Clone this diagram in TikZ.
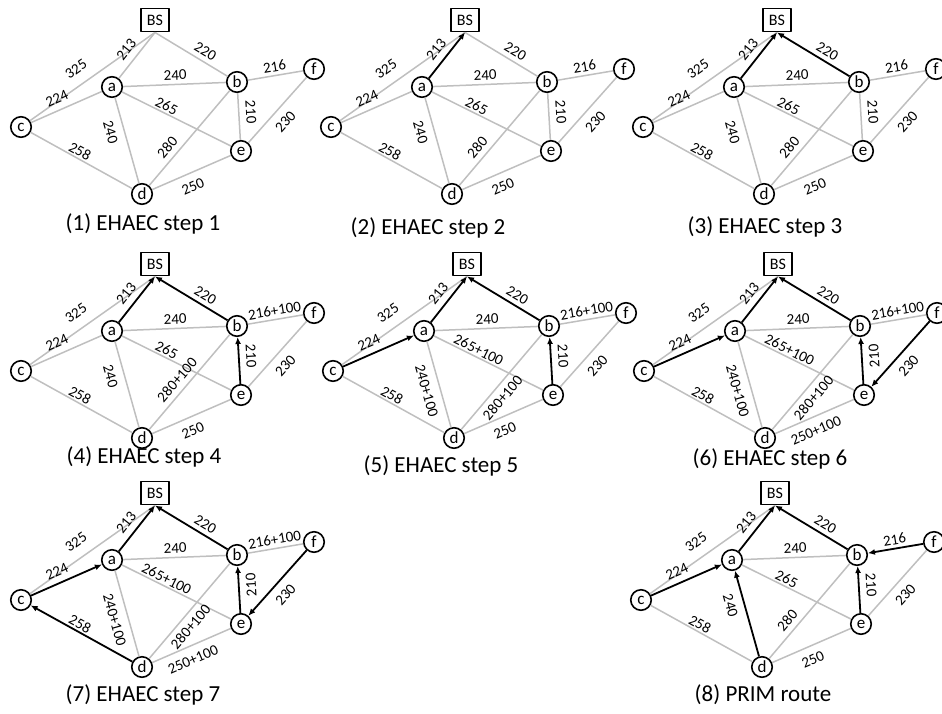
\documentclass[tikz,border=0pt]{standalone}
\usepackage{fontspec}
\setmainfont{Carlito}
\usetikzlibrary{arrows.meta}

\begin{document}
\begin{tikzpicture}[
		x=1pt, y=-1pt,
		line join=round,
		>={Latex[length=7pt,width=6pt]},
		vtx/.style={circle, draw, line width=1.6pt, minimum size=20.5pt, inner sep=0pt, font=\fontsize{17}{17}\selectfont},
		bs/.style={draw, line width=1.9pt, minimum width=28pt, minimum height=23pt, inner sep=0pt, font=\fontsize{16}{16}\selectfont},
		link/.style={black!25, line width=1.5pt},
		tree/.style={->, black, line width=1.8pt},
		lab/.style={sloped, text=black, font=\fontsize{15}{15}\selectfont},
		captxt/.style={font=\fontsize{23}{23}\selectfont},
		e-cBS/.style={link}, e-aBS/.style={link}, e-bBS/.style={link},
		e-ab/.style={link}, e-bf/.style={link}, e-ca/.style={link},
		e-ae/.style={link}, e-eb/.style={link}, e-ef/.style={link},
		e-ad/.style={link}, e-db/.style={link}, e-cd/.style={link},
		e-de/.style={link},
		l-eb/.style={anchor=south},
		l-db/.style={anchor=south west, pos=0.19},
		flipped/.style={l-eb/.style={allow upside down, anchor=north}},
		dbright/.style={l-db/.style={anchor=north west, pos=0.15}}
	]
	
	\useasboundingbox (0,0) rectangle (942,713);
	
	% Edge weights
	\def\wbf{216}
	\def\wae{265}
	\def\wad{240}
	\def\wdb{280}
	\def\wde{250}
	
	% One network, BS at the origin
	\def\net{%
		\node[bs] (BS) at (0,0) {BS};
		\node[vtx] (a) at (-43,67) {a};
		\node[vtx] (b) at (82,62) {b};
		\node[vtx] (c) at (-134,107) {c};
		\node[vtx] (d) at (-13,174) {d};
		\node[vtx] (e) at (86,131) {e};
		\node[vtx] (f) at (159,49) {f};
		\draw[e-cBS] (c) -- (BS.south) node[lab, pos=0.44, anchor=south, inner sep=10pt] (w-cBS) {325};
		\draw[e-aBS] (a) -- (BS.south) node[lab, pos=0.46, anchor=south, inner sep=6pt] (w-aBS) {213};
		\draw[e-bBS] (b) -- (BS.south) node[lab, pos=0.375, anchor=south, inner sep=4pt] (w-bBS) {220};
		\draw[e-ab] (a) -- (b) node[lab, pos=0.51, anchor=south, inner sep=3.5pt] (w-ab) {240};
		\draw[e-bf] (f) -- (b) node[lab, pos=0.49, anchor=south, inner sep=3pt] (w-bf) {\wbf};
		\draw[e-ca] (c) -- (a) node[lab, pos=0.43, anchor=south, inner sep=6pt] (w-ca) {224};
		\draw[e-ae] (a) -- (e) node[lab, pos=0.38, anchor=south, inner sep=1.5pt] (w-ae) {\wae};
		\draw[e-eb] (e) -- (b) node[lab, l-eb, pos=0.58, inner sep=6.5pt] (w-eb) {210};
		\draw[e-ef] (f) -- (e) node[lab, pos=0.54, anchor=north, inner sep=8pt] (w-ef) {230};
		\draw[e-ad] (d) -- (a) node[lab, pos=0.865, anchor=north west, inner sep=8pt] (w-ad) {\wad};
		\draw[e-db] (d) -- (b) node[lab, l-db, inner sep=5pt] (w-db) {\wdb};
		\draw[e-cd] (d) -- (c) node[lab, pos=0.55, anchor=south, inner sep=1.5pt] (w-cd) {258};
		\draw[e-de] (d) -- (e) node[lab, pos=0.45, anchor=north, inner sep=8pt] (w-de) {\wde};
	}
	
	% (1)
	\begin{scope}[shift={(155,20)}, name prefix=p1-]
		\net
		\node[captxt] (cap) at (-12,204) {(1) EHAEC step 1};
	\end{scope}
	
	% (2)
	\begin{scope}[shift={(465,20)}, name prefix=p2-, e-aBS/.style=tree]
		\net
		\node[captxt] (cap) at (-37,208) {(2) EHAEC step 2};
	\end{scope}
	
	% (3)
	\begin{scope}[shift={(777,20)}, name prefix=p3-, e-aBS/.style=tree, e-bBS/.style=tree]
		\net
		\node[captxt] (cap) at (-12,207) {(3) EHAEC step 3};
	\end{scope}
	
	% (4)
	\begin{scope}[shift={(155,264)}, name prefix=p4-, e-aBS/.style=tree, e-bBS/.style=tree,
		e-eb/.style=tree]
		\def\wbf{216+100}\def\wdb{280+100}
		\net
		\node[captxt] (cap) at (-11,193) {(4) EHAEC step 4};
	\end{scope}
	
	% (5)
	\begin{scope}[shift={(467,264)}, name prefix=p5-, e-aBS/.style=tree, e-bBS/.style=tree,
		e-eb/.style=tree, e-ca/.style=tree, dbright]
		\def\wbf{216+100}\def\wdb{280+100}\def\wae{265+100}\def\wad{240+100}
		\net
		\node[captxt] (cap) at (-26,202) {(5) EHAEC step 5};
	\end{scope}
	
	% (6)
	\begin{scope}[shift={(778,264)}, name prefix=p6-, e-aBS/.style=tree, e-bBS/.style=tree,
		e-eb/.style=tree, e-ca/.style=tree, e-ef/.style=tree, flipped, dbright]
		\def\wbf{216+100}\def\wdb{280+100}\def\wae{265+100}\def\wad{240+100}\def\wde{250+100}
		\net
		\node[captxt] (cap) at (-8,195) {(6) EHAEC step 6};
	\end{scope}
	
	% (7)
	\begin{scope}[shift={(155,493)}, name prefix=p7-, e-aBS/.style=tree, e-bBS/.style=tree,
		e-eb/.style=tree, e-ca/.style=tree, e-ef/.style=tree, e-cd/.style=tree, flipped, dbright]
		\def\wbf{216+100}\def\wdb{280+100}\def\wae{265+100}\def\wad{240+100}\def\wde{250+100}
		\net
		\node[captxt] (cap) at (-12,202) {(7) EHAEC step 7};
	\end{scope}
	
	% (8) Prim
	\begin{scope}[shift={(775,493)}, name prefix=p8-, e-aBS/.style=tree, e-bBS/.style=tree,
		e-eb/.style=tree, e-ca/.style=tree, e-bf/.style=tree, e-ad/.style=tree]
		\net
		\node[captxt] (cap) at (-12,202) {(8) PRIM route};
	\end{scope}
	
\end{tikzpicture}
\end{document}
